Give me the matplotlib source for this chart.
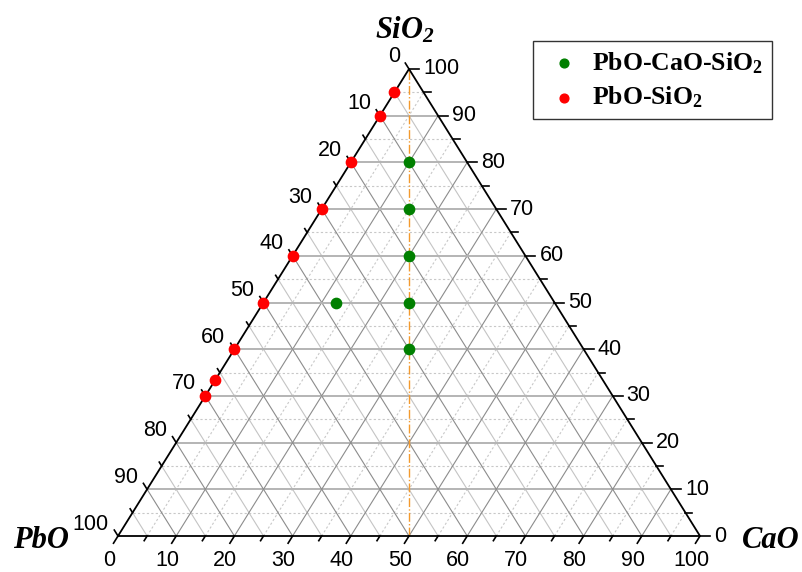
import numpy as np
import matplotlib
matplotlib.use('Agg')
import matplotlib.pyplot as plt

plt.rcParams['mathtext.default'] = 'regular'

# composition data (mol %), CaO and SiO2 given, PbO is the rest
green_cao = [10, 15, 20, 25, 30, 12.5]
green_sio2 = [80, 70, 60, 50, 40, 50]
red_cao = [0, 0, 0, 0, 0, 0, 0, 0, 0]
red_sio2 = [95, 90, 80, 70, 60, 50, 40, 33.3, 30]

tick_values = [0, 10, 20, 30, 40, 50, 60, 70, 80, 90, 100]
minor_values = [5, 15, 25, 35, 45, 55, 65, 75, 85, 95]

W, H = 803, 572
# triangle placement in pixels
x0, x1 = 118, 700
ybot, ytop = 536, 69
sx = (x1 - x0) / 100.0
sy = (ybot - ytop) / 100.0

fig = plt.figure(figsize=(W / 100, H / 100), dpi=100)
ax = fig.add_axes([x0 / W, (H - ybot) / H, (x1 - x0) / W, (ybot - ytop) / H])
ax.set_xlim(0, 100)
ax.set_ylim(0, 100)
ax.axis('off')


def xy(cao, sio2):
    cao = np.asarray(cao, dtype=float)
    sio2 = np.asarray(sio2, dtype=float)
    return cao + sio2 / 2.0, sio2


def px(dx, dy):
    # pixel offset (screen, y down) -> data offset
    return dx / sx, -dy / sy


# grid
for v in minor_values:
    # constant SiO2
    ax.plot([v / 2, 100 - v / 2], [v, v], color='#c8c8c8', lw=0.8, ls=(0, (2, 2)), zorder=1)
    # constant CaO
    ax.plot([v, v + (100 - v) / 2], [0, 100 - v], color='#c8c8c8', lw=0.8, ls=(0, (2, 2)), zorder=1)
    # constant PbO
    ax.plot([100 - v, (100 - v) / 2], [0, 100 - v], color='#c4c4c4', lw=0.8, zorder=1)
for v in tick_values[1:-1]:
    ax.plot([v / 2, 100 - v / 2], [v, v], color='#b4b4b4', lw=1.4, zorder=1.5)
    ax.plot([v, v + (100 - v) / 2], [0, 100 - v], color='#8c8c8c', lw=0.8, zorder=1.5)
    ax.plot([100 - v, (100 - v) / 2], [0, 100 - v], color='#8c8c8c', lw=0.8, zorder=1.5)

# CaO/PbO = 1 line
ax.plot([50, 50], [0, 100], color='#f39a2e', lw=1.0, ls='-.', zorder=2)

# triangle frame
ax.plot([0, 100, 50, 0], [0, 0, 100, 0], color='black', lw=1.3, zorder=3, clip_on=False)

# direction unit vectors in pixels
ldir = np.array([-0.529, 0.849])   # down-left, parallel to left edge
rdir = np.array([-0.529, -0.849])  # up-left, parallel to right edge

tfs = 15.5
tfont = 'Liberation Sans'
# bottom axis (CaO)
for v in tick_values + minor_values:
    major = v in tick_values
    L = 8.5 if major else 5.5
    d = px(*(ldir * L))
    ax.plot([v, v + d[0]], [0, d[1]], color='black', lw=1.2, clip_on=False, zorder=3)
    if major:
        o = px(-9, 25)
        ax.text(v + o[0], o[1], str(v), ha='center', va='center', fontsize=tfs, family=tfont)
# left axis (PbO, 0 at top)
for v in tick_values + minor_values:
    major = v in tick_values
    L = 7 if major else 4.5
    ex, ey = xy(0, 100 - v)
    d = px(*(rdir * L))
    ax.plot([ex, ex + d[0]], [ey, ey + d[1]], color='black', lw=1.2, clip_on=False, zorder=3)
    if major:
        o = px(-9, -12)
        ax.text(ex + o[0], ey + o[1], str(v), ha='right', va='center', fontsize=tfs, family=tfont)
# right axis (SiO2)
for v in tick_values + minor_values:
    major = v in tick_values
    L = 10 if major else 7
    ex, ey = xy(100 - v, v)
    d = px(L, 0)
    ax.plot([ex, ex + d[0]], [ey, ey], color='black', lw=1.2, clip_on=False, zorder=3)
    if major:
        o = px(14, 0)
        ax.text(ex + o[0], ey, str(v), ha='left', va='center', fontsize=tfs, family=tfont)

# axis titles
title_font = dict(family='Liberation Serif', weight='bold', style='italic', fontsize=22)
fig.text(405 / W, 1 - 30 / H, 'SiO$_2$', ha='center', va='center', **title_font)
fig.text(41 / W, 1 - 540 / H, 'PbO', ha='center', va='center', **title_font)
fig.text(771 / W, 1 - 541 / H, 'CaO', ha='center', va='center', **title_font)

# points
gx, gy = xy(green_cao, green_sio2)
rx, ry = xy(red_cao, red_sio2)
ax.scatter(gx, gy, s=55, color='#008000', zorder=5, clip_on=False, label='PbO-CaO-SiO$_2$')
ax.scatter(rx, ry, s=55, color='#ff0000', zorder=5, clip_on=False, label='PbO-SiO$_2$')

leg = ax.legend(loc='upper right', bbox_to_anchor=(772 / W, 1 - 41 / H), bbox_transform=fig.transFigure,
                borderaxespad=0, frameon=True, fancybox=False, edgecolor='black',
                prop=dict(family='Liberation Serif', weight='bold', size=18.5),
                markerscale=0.85, handlelength=1.7, handletextpad=0.27,
                borderpad=0.35, labelspacing=0.35)
leg.get_frame().set_linewidth(1.0)

fig.savefig('out.png', dpi=100)
